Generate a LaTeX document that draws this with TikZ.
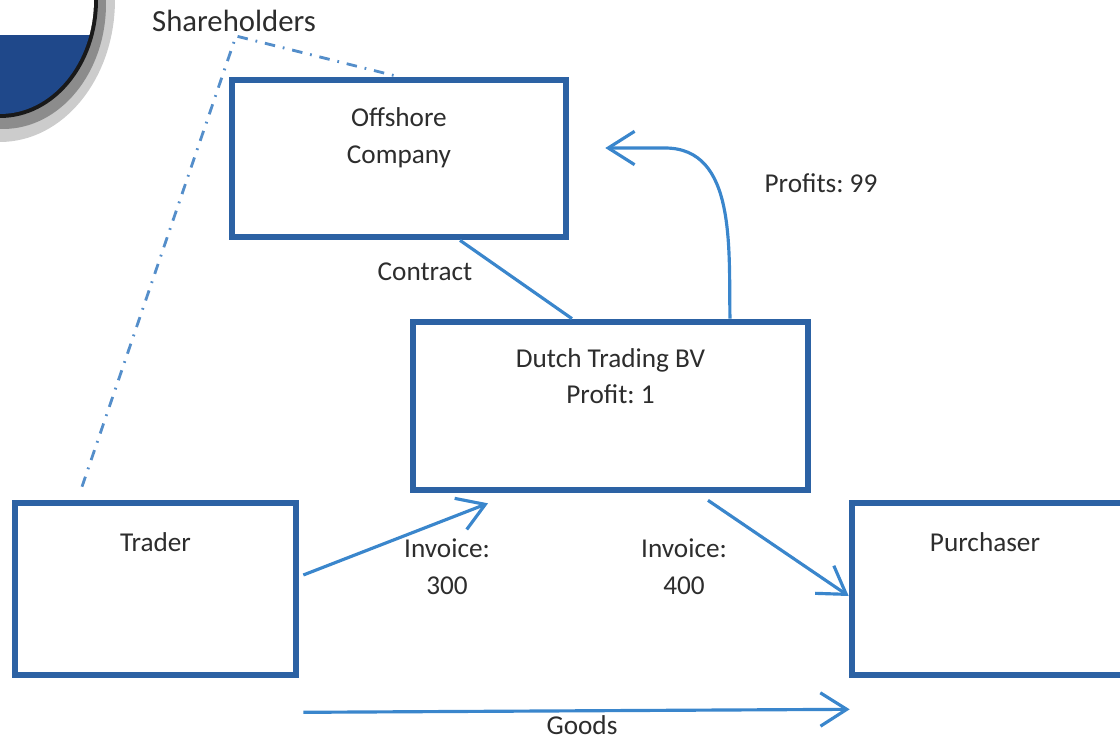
\documentclass[tikz,border=0pt]{standalone}
\usepackage{fontspec}
\setmainfont{Carlito}
\usetikzlibrary{arrows.meta,positioning}
\definecolor{boxblue}{RGB}{44,98,164}
\definecolor{arrowblue}{RGB}{58,134,204}
\definecolor{dashblue}{RGB}{84,142,202}
\definecolor{navy}{RGB}{31,72,138}
\definecolor{inkgrey}{RGB}{45,45,45}
\frenchspacing

\begin{document}
\begin{tikzpicture}[x=0.02cm,y=-0.02cm,
  party/.style={draw=boxblue,line width=3.8pt,fill=white,inner sep=0pt},
  txt/.style={text=inkgrey,font=\fontsize{15.5}{21}\selectfont,align=center,inner sep=1pt},
  flow/.style={draw=arrowblue,line width=1.8pt,-{Straight Barb[length=15pt,width=19pt,line width=1.8pt]}},
  link/.style={draw=arrowblue,line width=1.8pt},
  owner/.style={draw=dashblue,line width=1.6pt,dash pattern=on 6pt off 4.5pt on 1pt off 4.5pt}]
\useasboundingbox (0,0) rectangle (1120,741);
\clip (0,0) rectangle (1120,741);

% corner badge
\fill[gray!40] (0,0) ellipse [x radius=2.3cm,y radius=2.84cm];
\fill[black!45] (3,4) ellipse [x radius=2.06cm,y radius=2.5cm];
\fill[black!90] (0,0) ellipse [x radius=1.96cm,y radius=2.36cm];
\begin{scope}
\clip (0,0) ellipse [x radius=1.88cm,y radius=2.28cm];
\fill[white] (0,0) rectangle (120,35);
\fill[navy] (0,35) rectangle (120,140);
\end{scope}

% boxes
\node[party,minimum width=6.68cm,minimum height=3.14cm] (offshore) at (399,158.5) {};
\node[party,minimum width=7.9cm,minimum height=3.36cm] (dutch) at (610.5,406) {};
\node[party,minimum width=5.62cm,minimum height=3.44cm] (trader) at (155.5,589) {};
\node[party,minimum width=5.46cm,minimum height=3.44cm] (purchaser) at (988.5,589) {};

\node[txt] (offshoretxt) at ([yshift=-1.22cm]offshore.north) {Offshore\\Company};
\node[txt] (dutchtxt) at ([yshift=-1.15cm]dutch.north) {Dutch Trading BV\\Profit: 1};
\node[txt] (tradertxt) at ([yshift=-0.84cm]trader.north) {Trader};
\node[txt] (purchasertxt) at ([xshift=-0.07cm,yshift=-0.84cm]purchaser.north) {Purchaser};

% labels
\node[txt,font=\fontsize{17.5}{21}\selectfont] (shareholders) at (234,21) {Shareholders};
\node[txt] (contract) at (425,272) {Contract};
\node[txt] (profits) at (821,183) {Profits: 99};
\node[txt] (inv300) at (447,567) {Invoice:\\300};
\node[txt] (inv400) at (684,567) {Invoice:\\400};
\node[txt] (goods) at (582,725) {Goods};

% ownership
\coordinate (apex) at (236,36);
\draw[owner] ([xshift=-1.47cm,yshift=0.26cm]trader.north) -- (apex) -- ([xshift=3.4cm]offshore.north west);

% contract
\draw[link] ([xshift=1.22cm]offshore.south) -- ([xshift=-0.77cm]dutch.north);

% profits back up
\coordinate (profittip) at ([xshift=0.72cm,yshift=0.21cm]offshore.east);
\draw[flow] ([xshift=2.39cm]dutch.north) to[out=91,in=0] (665,148) -- (profittip);

% invoices
\draw[flow] ([xshift=0.08cm,yshift=0.28cm]trader.east) -- ([xshift=-2.45cm,yshift=-0.2cm]dutch.south);
\draw[flow] ([xshift=1.95cm,yshift=-0.14cm]dutch.south) -- ([yshift=-0.14cm]purchaser.west);

% goods
\draw[flow] ([xshift=0.08cm,yshift=-0.68cm]trader.south east) -- ([xshift=0.02cm,yshift=-0.62cm]purchaser.south west);
\end{tikzpicture}
\end{document}
